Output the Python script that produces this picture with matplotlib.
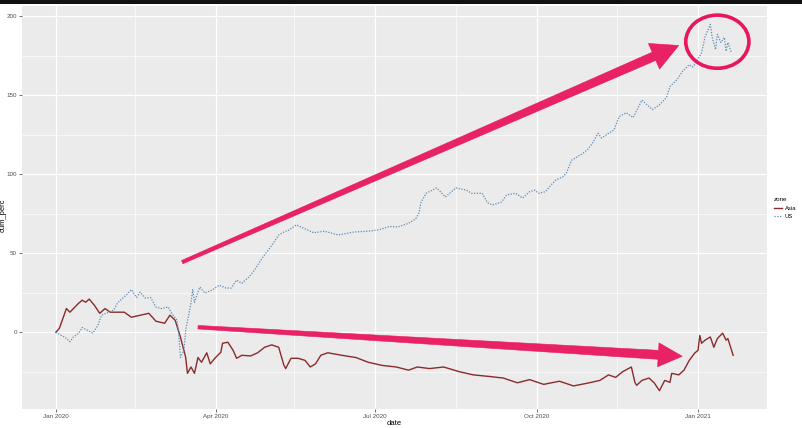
import numpy as np
import pandas as pd
import matplotlib
matplotlib.use("Agg")
import matplotlib.pyplot as plt
import matplotlib.dates as mdates
from matplotlib.patches import Polygon, Ellipse, Rectangle
from matplotlib.lines import Line2D

plt.rcParams['font.family'] = ['Liberation Sans', 'DejaVu Sans']

# ---------------- data ----------------
asia_dates = ["2020-01-01","2020-01-03","2020-01-07","2020-01-09","2020-01-14","2020-01-16","2020-01-18",
    "2020-01-20","2020-01-23","2020-01-26","2020-01-29","2020-02-01","2020-02-09","2020-02-13","2020-02-23",
    "2020-02-27","2020-03-03","2020-03-06","2020-03-09","2020-03-12","2020-03-15","2020-03-16","2020-03-18",
    "2020-03-20","2020-03-22","2020-03-24","2020-03-27","2020-03-29","2020-04-01","2020-04-04","2020-04-05",
    "2020-04-08","2020-04-11","2020-04-13","2020-04-16","2020-04-21","2020-04-25","2020-04-29","2020-05-03",
    "2020-05-07","2020-05-10","2020-05-11","2020-05-14","2020-05-18","2020-05-22","2020-05-25","2020-05-28",
    "2020-05-31","2020-06-04","2020-06-12","2020-06-20","2020-06-27","2020-07-05","2020-07-13","2020-07-20",
    "2020-07-25","2020-08-01","2020-08-09","2020-08-18","2020-08-26","2020-09-04","2020-09-12","2020-09-20",
    "2020-09-27","2020-10-05","2020-10-14","2020-10-22","2020-10-31","2020-11-06","2020-11-11","2020-11-15",
    "2020-11-19","2020-11-24","2020-11-26","2020-11-27","2020-11-30","2020-12-04","2020-12-07","2020-12-10",
    "2020-12-13","2020-12-16","2020-12-17","2020-12-21","2020-12-24","2020-12-27","2020-12-30","2021-01-01",
    "2021-01-02","2021-01-03","2021-01-05","2021-01-08","2021-01-10","2021-01-12","2021-01-15","2021-01-17",
    "2021-01-18","2021-01-21"]
asia_values = [0, 2.5, 15, 12.7, 18.4, 20.3, 19,
    21, 17, 12, 15, 12.7, 12.7, 9.5, 12,
    7, 5.7, 10.8, 7.6, -3, -16, -26, -22,
    -26, -16, -19, -13, -20, -16, -12.7, -7,
    -6.3, -11.4, -16.5, -14.6, -15, -13, -9.5, -8,
    -9.5, -21, -23, -16.5, -16.5, -17.8, -22, -20,
    -14.6, -13, -14.6, -16, -19, -21, -22, -24,
    -22, -23, -22, -25, -27, -28, -29, -32,
    -30, -33, -31, -34, -32, -30.5, -27, -28.6,
    -25, -22, -31.7, -33.6, -30.5, -29, -32, -37,
    -30.5, -31.7, -26, -27, -24, -17.8, -13.3, -11.4,
    -2, -7, -5, -3, -9.5, -4, -0.6, -5,
    -4, -14.6]

us_dates = ["2020-01-01","2020-01-04","2020-01-06","2020-01-09","2020-01-11","2020-01-14","2020-01-16",
    "2020-01-19","2020-01-22","2020-01-25","2020-01-27","2020-01-31","2020-02-03","2020-02-05","2020-02-10",
    "2020-02-13","2020-02-16","2020-02-18","2020-02-21","2020-02-24","2020-02-27","2020-03-01","2020-03-05",
    "2020-03-07","2020-03-10","2020-03-11","2020-03-12","2020-03-14","2020-03-15","2020-03-18","2020-03-19",
    "2020-03-20","2020-03-23","2020-03-26","2020-03-30","2020-04-03","2020-04-07","2020-04-10","2020-04-13",
    "2020-04-16","2020-04-20","2020-04-23","2020-04-25","2020-04-28","2020-05-01","2020-05-04","2020-05-07",
    "2020-05-10","2020-05-13","2020-05-17","2020-05-21","2020-05-27","2020-06-02","2020-06-10","2020-06-19",
    "2020-06-27","2020-07-03","2020-07-09","2020-07-14","2020-07-20","2020-07-24","2020-07-26","2020-07-27",
    "2020-07-30","2020-08-05","2020-08-10","2020-08-16","2020-08-22","2020-08-25","2020-08-31","2020-09-03",
    "2020-09-06","2020-09-11","2020-09-14","2020-09-19","2020-09-23","2020-09-27","2020-09-30","2020-10-02",
    "2020-10-06","2020-10-09","2020-10-12","2020-10-16","2020-10-18","2020-10-21","2020-10-24","2020-10-27",
    "2020-10-30","2020-11-02","2020-11-05","2020-11-07","2020-11-11","2020-11-14","2020-11-17","2020-11-21",
    "2020-11-25","2020-11-30","2020-12-03","2020-12-06","2020-12-10","2020-12-14","2020-12-16","2020-12-20",
    "2020-12-23","2020-12-27","2020-12-29","2020-12-31","2021-01-03","2021-01-05","2021-01-08","2021-01-09",
    "2021-01-11","2021-01-12","2021-01-14","2021-01-16","2021-01-17","2021-01-18","2021-01-20"]
us_values = [0, -2, -3, -6, -3, -0.6, 3,
    1.3, -0.6, 4.4, 10.8, 12.7, 14, 18.4, 23.5,
    27, 22, 25.4, 21.6, 22, 16, 15, 16,
    12, 7.6, -0.6, -16, -11.4, 1.3, 18.4, 27,
    19, 28.6, 24.8, 26.7, 29.8, 28, 28, 33,
    31, 35, 39, 42.5, 47.6, 52, 56.5, 61.6,
    63.5, 64.8, 68, 66, 63, 64, 61.6, 63.5,
    64, 64.8, 67, 66.7, 69, 71.7, 75.6, 82,
    88, 91.4, 85.7, 91.4, 90, 88, 88, 82,
    80.6, 82.5, 87, 88, 85, 89, 90, 88,
    89, 93, 96.5, 98.4, 101, 109, 111, 113,
    115.6, 120, 126, 123, 126, 128, 136.5, 139,
    136, 147, 144, 141, 144, 148.6, 155.6, 160,
    165, 169.5, 168, 171, 177, 187, 195, 187,
    179, 188.6, 183.5, 186.7, 178, 183.5, 177]

zones = ["Asia", "US"]
x_tick_dates = ["2020-01-01", "2020-04-01", "2020-07-01", "2020-10-01", "2021-01-01"]
x_tick_labels = ["Jan 2020", "Apr 2020", "Jul 2020", "Oct 2020", "Jan 2021"]
x_minor_dates = ["2019-11-16", "2020-02-15", "2020-05-16", "2020-08-16", "2020-11-16", "2021-02-15"]
y_ticks = [0, 50, 100, 150, 200]
y_minor = [-25, 25, 75, 125, 175]

# annotation anchors (date, value)
up_arrow = (("2020-03-13", 44.4), ("2020-12-21", 181.6))
low_arrow = (("2020-03-22", 3.2), ("2020-12-23", -15.2))
circle_center = ("2021-01-12", 184)

# ---------------- figure ----------------
W, H = 803, 428
fig = plt.figure(figsize=(W / 100, H / 100), dpi=100)
fig.patch.set_facecolor("white")
fig.add_artist(Rectangle((0, 1 - 4 / H), 1, 4 / H, transform=fig.transFigure,
                         facecolor="#111111", edgecolor="none", zorder=10))

ax = fig.add_axes([22 / W, 1 - 409 / H, (767 - 22) / W, (409 - 6) / H])
ax.set_facecolor("#EBEBEB")
for s in ax.spines.values():
    s.set_visible(False)

ad = mdates.date2num(pd.to_datetime(asia_dates))
ud = mdates.date2num(pd.to_datetime(us_dates))
asia_col = "#8B2A2A"
us_col = "#5F8BB5"
ax.plot(ad, asia_values, color=asia_col, lw=1.0, zorder=3)
ax.plot(ud, us_values, color=us_col, lw=0.9, ls=(0, (1, 1.2)), zorder=3)

xt = mdates.date2num(pd.to_datetime(x_tick_dates))
ax.set_xticks(xt)
ax.set_xticklabels(x_tick_labels)
ax.set_xticks(mdates.date2num(pd.to_datetime(x_minor_dates)), minor=True)
ax.set_yticks(y_ticks)
ax.set_yticks(y_minor, minor=True)

# ggplot-like expansion (set after ticks so ticks don't widen the view)
xmin = min(ad.min(), ud.min()); xmax = max(ad.max(), ud.max())
xr = xmax - xmin
ax.set_xlim(xmin - 0.05 * xr, xmax + 0.05 * xr)
allv = asia_values + us_values
yr = max(allv) - min(allv)
ax.set_ylim(min(allv) - 0.05 * yr, max(allv) + 0.05 * yr)

ax.grid(which="major", color="white", lw=0.9)
ax.grid(which="minor", color="white", lw=0.45)
ax.set_axisbelow(True)
ax.tick_params(which="major", length=2.2, width=0.5, color="#333333",
               labelsize=4.5, labelcolor="#4D4D4D", pad=1.5)
ax.tick_params(which="minor", length=0)
ax.set_xlabel("date", fontsize=5.5)
ax.set_ylabel("cum_perc", fontsize=5.5)
ax.xaxis.set_label_coords(0.5, -0.028)
ax.yaxis.set_label_coords(-0.021, 0.48)

# legend
handles = [Line2D([], [], color=asia_col, lw=1.0),
           Line2D([], [], color=us_col, lw=0.9, ls=(0, (1, 1.2)))]
leg = fig.legend(handles, zones, title="zone", loc="upper left",
                 bbox_to_anchor=(769 / W, 1 - 192 / H), frameon=False,
                 fontsize=4.2, title_fontsize=4.5, handlelength=1.3,
                 handletextpad=0.5, labelspacing=0.6)
leg._legend_box.align = "left"

# ---------------- pink annotations ----------------
pink = "#E8175D"
fig.canvas.draw()

def tapered_arrow(p0, p1, w0, w1, head_w, head_l):
    t = ax.transData
    a = t.transform((mdates.date2num(pd.Timestamp(p0[0])), p0[1]))
    b = t.transform((mdates.date2num(pd.Timestamp(p1[0])), p1[1]))
    d = b - a
    L = np.hypot(*d)
    u = d / L
    n = np.array([-u[1], u[0]])
    base = b - u * head_l
    pts = [a + n * w0 / 2, base + n * w1 / 2, base + n * head_w / 2, b,
           base - n * head_w / 2, base - n * w1 / 2, a - n * w0 / 2]
    data_pts = t.inverted().transform(np.array(pts))
    ax.add_patch(Polygon(data_pts, closed=True, facecolor=pink, edgecolor=pink,
                         lw=0.4, alpha=0.95, zorder=5, clip_on=False))

tapered_arrow(up_arrow[0], up_arrow[1], 3.5, 9, 28, 27)
tapered_arrow(low_arrow[0], low_arrow[1], 3.5, 9, 24, 24)

cx = mdates.date2num(pd.Timestamp(circle_center[0]))
ax.add_patch(Ellipse((cx, circle_center[1]), width=63 / 1.75, height=53 / 1.575,
                     facecolor="none", edgecolor=pink, lw=2.6, zorder=5, clip_on=False))

fig.savefig("out.png", dpi=100)
